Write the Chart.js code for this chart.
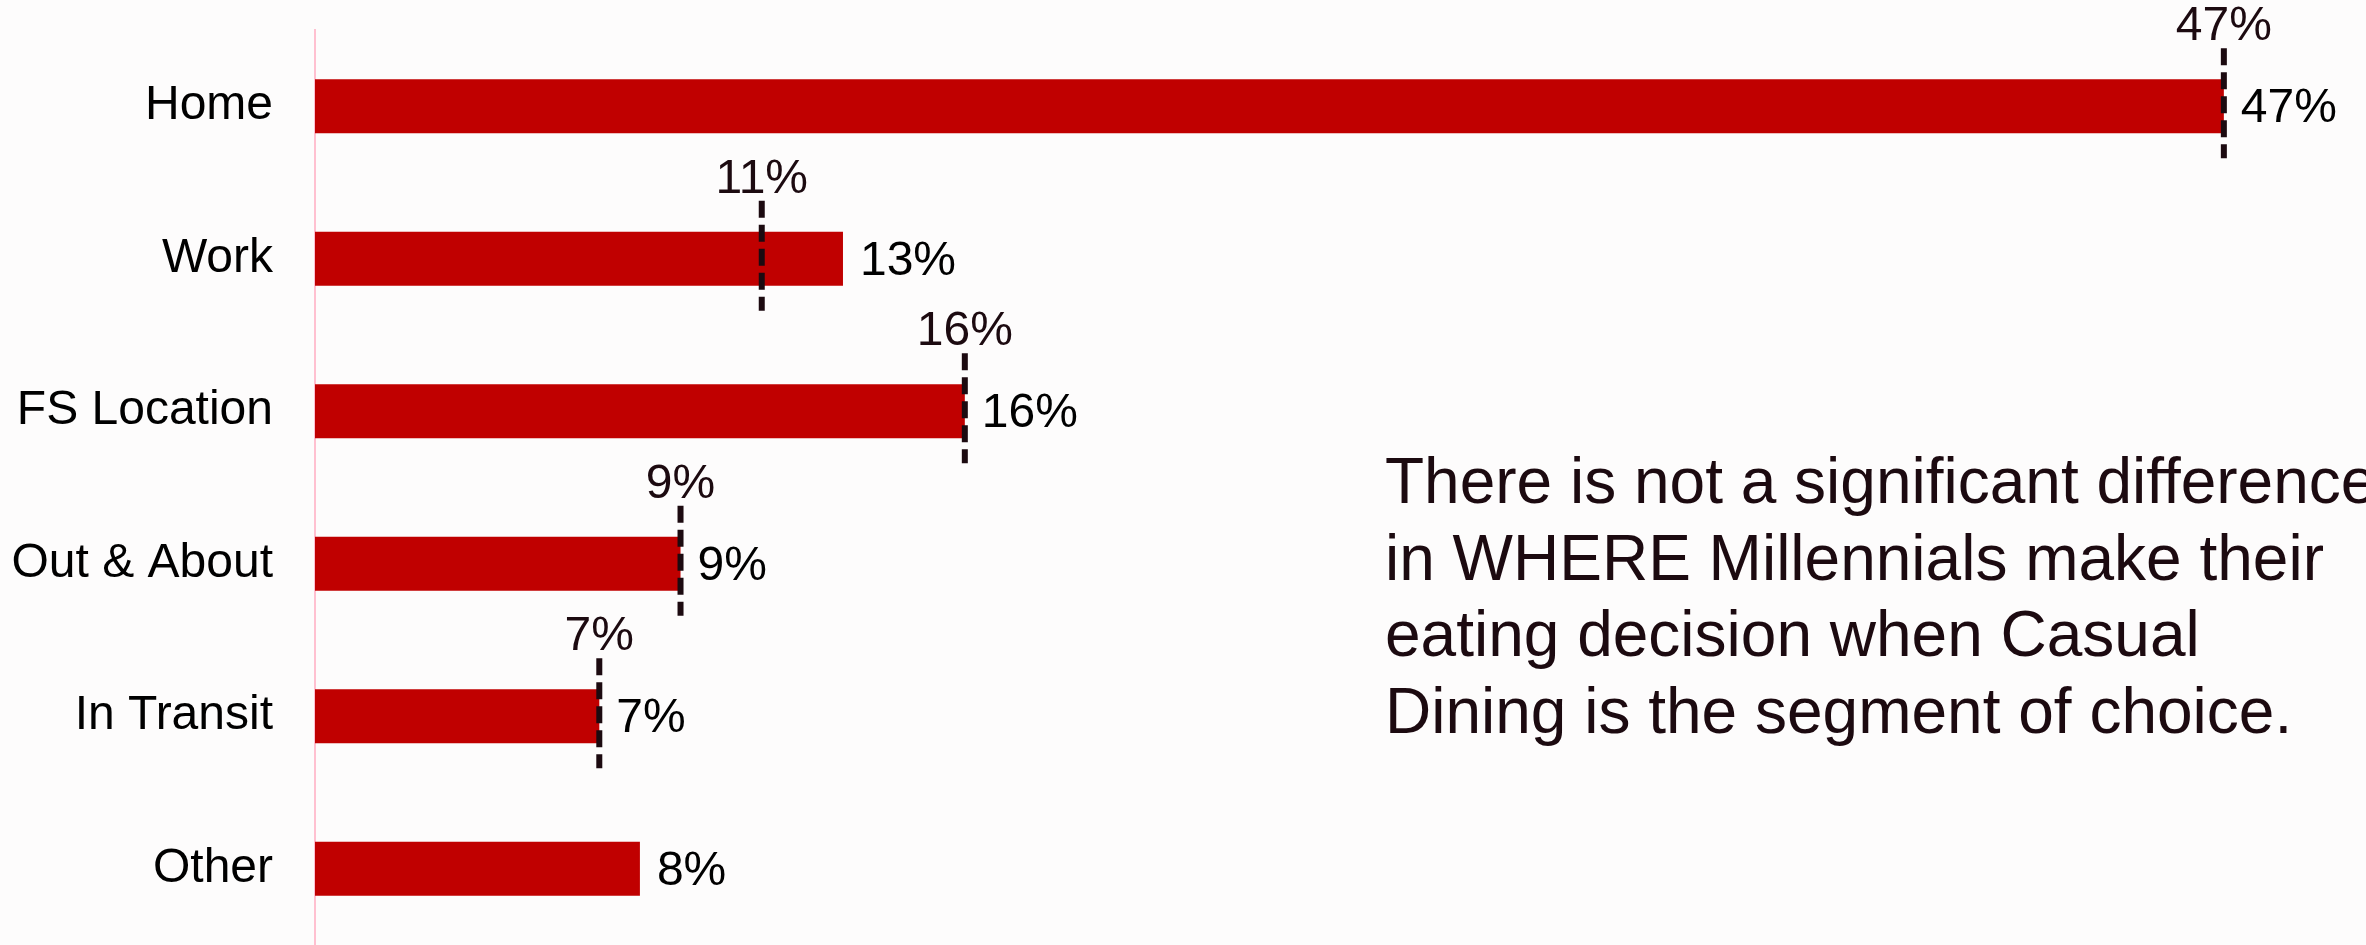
<!DOCTYPE html>
<html>
<head>
<meta charset="utf-8">
<script src="https://cdn.jsdelivr.net/npm/chart.js@4.4.1/dist/chart.umd.min.js"></script>
<style>
  html, body { margin: 0; padding: 0; background: #fdfcfc; }
  #wrap { width: 2366px; height: 945px; position: relative; }
</style>
</head>
<body>
<div id="wrap"><canvas id="whereChart"></canvas></div>
<script>
// decision location shares
const categories = ['Home', 'Work', 'FS Location', 'Out & About', 'In Transit', 'Other'];
const casualShare = [47, 13, 16, 9, 7, 8];
const totalShare = [47, 11, 16, 9, 7, null];
const noteLines = [
    'There is not a significant difference',
    'in WHERE Millennials make their',
    'eating decision when Casual',
    'Dining is the segment of choice.'
];

const FONT = '"Liberation Sans", Arial, sans-serif';
const INK = '#1c0a10';

// background
const bgPlugin = {
    id: 'bg',
    beforeDraw(chart) {
        const ctx = chart.ctx;
        ctx.save();
        ctx.fillStyle = '#fdfcfc';
        ctx.fillRect(0, 0, chart.width, chart.height);
        ctx.restore();
    }
};

// value labels, dashed comparison markers and the side note
const labelPlugin = {
    id: 'labels',
    afterDatasetsDraw(chart) {
        const ctx = chart.ctx;
        const xs = chart.scales.x;
        const bars = chart.getDatasetMeta(0).data;
        ctx.save();

        bars.forEach((bar, i) => {
            // bar value
            ctx.font = '48px ' + FONT;
            ctx.fillStyle = '#000';
            ctx.textAlign = 'left';
            ctx.textBaseline = 'middle';
            ctx.fillText(casualShare[i] + '%', bar.x + 17, bar.y + 3);

            const v = totalShare[i];
            if (v == null) return;
            const px = xs.getPixelForValue(v);
            const top = bar.y - 58;
            const bottom = bar.y + 52;

            ctx.beginPath();
            ctx.setLineDash([17, 7]);
            ctx.lineWidth = 6;
            ctx.strokeStyle = INK;
            ctx.moveTo(px, top);
            ctx.lineTo(px, bottom);
            ctx.stroke();
            ctx.setLineDash([]);

            ctx.font = '48px ' + FONT;
            ctx.fillStyle = INK;
            ctx.textAlign = 'center';
            ctx.textBaseline = 'alphabetic';
            ctx.fillText(v + '%', px, top - 8);
        });

        // note text
        ctx.font = '64px ' + FONT;
        ctx.fillStyle = INK;
        ctx.textAlign = 'left';
        ctx.textBaseline = 'alphabetic';
        noteLines.forEach((line, k) => {
            ctx.fillText(line, 1385, 503 + k * 76.5);
        });

        ctx.restore();
    }
};

new Chart(document.getElementById('whereChart'), {
    type: 'bar',
    data: {
        labels: categories,
        datasets: [{
            data: casualShare,
            backgroundColor: '#c00000',
            borderWidth: 0,
            barPercentage: 0.355,
            categoryPercentage: 1
        }]
    },
    options: {
        indexAxis: 'y',
        responsive: true,
        maintainAspectRatio: false,
        animation: false,
        layout: { padding: { top: 30, right: 0, bottom: 0, left: 0 } },
        plugins: {
            legend: { display: false },
            tooltip: { enabled: false }
        },
        scales: {
            x: {
                display: false,
                min: 0,
                max: 50.5
            },
            y: {
                afterFit(scale) {
                    scale.width = 315;
                    // label padding should only push labels sideways
                    scale.paddingTop = 0;
                    scale.paddingBottom = 0;
                },
                grid: { display: false, drawTicks: false },
                border: { display: true, color: '#ffc0d0', width: 2 },
                ticks: {
                    color: '#000',
                    padding: 42,
                    font: { family: FONT, size: 48 }
                }
            }
        }
    },
    plugins: [bgPlugin, labelPlugin]
});
</script>
</body>
</html>
